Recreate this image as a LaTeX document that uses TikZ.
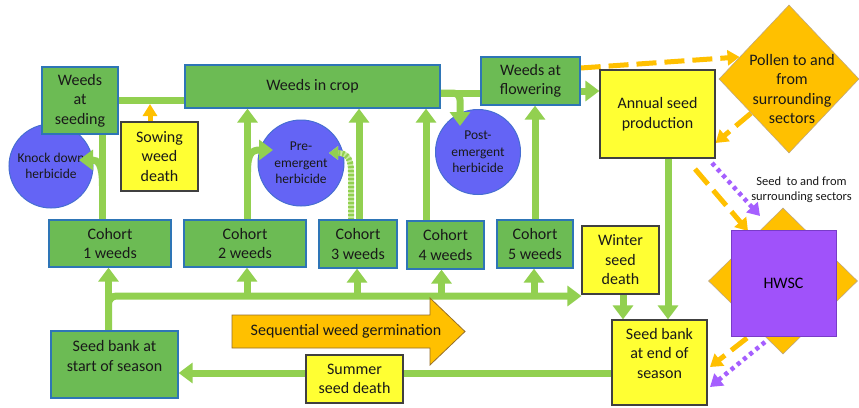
\documentclass[tikz,border=0pt]{standalone}
\usepackage{fontspec}
\setmainfont{Carlito}
\usetikzlibrary{arrows.meta,shapes.geometric}
\pgfdeclarelayer{back}
\pgfdeclarelayer{mid}
\pgfsetlayers{back,mid,main}
\definecolor{gfill}{RGB}{108,187,84}
\definecolor{lgreen}{RGB}{146,208,80}
\definecolor{dgreen}{RGB}{200,235,160}
\definecolor{bblue}{RGB}{46,117,182}
\definecolor{yfill}{RGB}{255,255,51}
\definecolor{ybord}{RGB}{64,64,64}
\definecolor{orng}{RGB}{255,192,0}
\definecolor{obord}{RGB}{150,110,40}
\definecolor{cfill}{RGB}{100,100,245}
\definecolor{cbord}{RGB}{70,110,210}
\definecolor{purp}{RGB}{160,82,250}
\definecolor{pbord}{RGB}{120,60,200}
\definecolor{pdotc}{RGB}{165,95,255}
\definecolor{tcol}{RGB}{25,25,25}
\newcommand\bigf{\fontsize{16}{19.5}\selectfont}
\newcommand\circf{\fontsize{13.5}{16.5}\selectfont}
\newcommand\smallf{\fontsize{12.5}{15.5}\selectfont}
\tikzset{
  txt/.style={text=tcol, align=center, font=\bigf, inner sep=0pt},
  gbox/.style={txt, draw=bblue, line width=1.3pt, fill=gfill},
  ybox/.style={txt, draw=ybord, line width=1.2pt, fill=yfill},
  herb/.style={circle, draw=cbord, fill=cfill, line width=1pt, inner sep=0pt, align=center, text=tcol, font=\circf},
  gline/.style={draw=lgreen, line width=7pt},
  garrow/.style={gline, -{Triangle[width=20pt,length=14pt]}},
  gdot/.style={draw=lgreen, line width=6pt, dash pattern=on 2pt off 2pt, preaction={draw=dgreen, line width=5.5pt, solid}, -{Triangle[width=13pt,length=9pt]}},
  oarrow/.style={draw=orng, line width=5pt, -{Triangle[width=14pt,length=12pt]}},
  odash/.style={draw=orng, line width=5pt, dash pattern=on 20pt off 8pt, -{Triangle[width=15pt,length=12pt]}},
  pdot/.style={draw=pdotc, line width=4.5pt, dash pattern=on 4pt off 4pt, -{Triangle[width=15pt,length=12pt]}}
}
\begin{document}
\begin{tikzpicture}[x=1pt,y=-1pt]
\begin{pgfonlayer}{back}
\fill[white] (0,0) rectangle (859,407);
\node[herb, minimum size=84pt] (knock) at (51,166) {Knock down\\herbicide};
\node[herb, minimum size=86pt] (pre) at (301,163) {Pre-\\emergent\\herbicide};
\node[herb, minimum size=85pt] (post) at (478,152) {Post-\\emergent\\herbicide};
\end{pgfonlayer}
\useasboundingbox (0,0) rectangle (859,407);

% boxes
\node[gbox, minimum width=76pt, minimum height=67pt] (seeding) at (80,100.5) {Weeds\\at\\seeding};
\node[gbox, minimum width=255pt, minimum height=43pt] (crop) at (312.5,86.5) {Weeds in crop};
\node[gbox, minimum width=99pt, minimum height=48pt] (flower) at (530.5,81) {Weeds at\\flowering};
\node[ybox, minimum width=115pt, minimum height=88pt] (annual) at (657.5,114) {Annual seed\\production};
\node[ybox, minimum width=77pt, minimum height=69pt] (sowing) at (159.5,156.5) {Sowing\\weed\\death};
\node[gbox, minimum width=122pt, minimum height=47pt] (c1) at (110,243.5) {Cohort\\1 weeds};
\node[gbox, minimum width=122pt, minimum height=47pt] (c2) at (245,243.5) {Cohort\\2 weeds};
\node[gbox, minimum width=78pt, minimum height=48pt] (c3) at (358,244) {Cohort\\3 weeds};
\node[gbox, minimum width=77pt, minimum height=48pt] (c4) at (445.5,245) {Cohort\\4 weeds};
\node[gbox, minimum width=76pt, minimum height=48pt] (c5) at (535,244) {Cohort\\5 weeds};
\node[ybox, minimum width=77pt, minimum height=68pt] (winter) at (620.5,260) {Winter\\seed\\death};
\node[gbox, minimum width=127pt, minimum height=67pt] (sbstart) at (114.5,364.5) {};
\node[txt] (sbstartT) at (114.5,356) {Seed bank at\\start of season};
\node[ybox, minimum width=95pt, minimum height=85pt] (sbend) at (659.5,362.5) {};
\node[txt] (sbendT) at (659.5,353) {Seed bank\\at end of\\season};
\node[ybox, minimum width=97pt, minimum height=48pt] (summer) at (354.5,379) {Summer\\seed death};

% pollen diamond
\node[diamond, draw=obord!60, fill=orng, line width=0.6pt, minimum width=140pt, minimum height=148pt, inner sep=0pt] (pollen) at (789,79) {};
\node[txt] (pollenT) at (792,89) {Pollen to and\\from\\surrounding\\sectors};

% HWSC
\node[diamond, draw=obord!60, fill=orng, line width=0.6pt, minimum width=149pt, minimum height=146pt, inner sep=0pt] (hwscd) at (783,281) {};
\node[txt, draw=pbord, fill=purp, line width=0.8pt, minimum width=105pt, minimum height=106pt, text={RGB:red,40;green,20;blue,60}] (hwsc) at (783.5,283) {HWSC};
\node[txt, font=\smallf] (seedT) at (801.5,189.5) {Seed\ \ to and from\\surrounding sectors};

% sequential germination arrow
\coordinate (sa1) at (232,315); \coordinate (sa2) at (430,315); \coordinate (sa3) at (430,298);
\coordinate (sa4) at (465,331.5); \coordinate (sa5) at (430,365); \coordinate (sa6) at (430,348);
\coordinate (sa7) at (232,348);
\draw[fill=orng, draw=obord, line width=0.8pt] (sa1) -- (sa2) -- (sa3) -- (sa4) -- (sa5) -- (sa6) -- (sa7) -- cycle;
\node[txt] (seq) at (346,331.5) {Sequential weed germination};

% connectors
\begin{pgfonlayer}{mid}
\draw[gline] (seeding.east) -- (seeding.east -| crop.west);
\coordinate (sowtip) at (150,104);
\draw[oarrow] (sowing.north -| sowtip) -- (sowtip);
\draw[gline] ([xshift=-7.5pt]c1.north) -- ([xshift=-7.5pt]c1.north |- seeding.south);
\coordinate (k0) at (102.5,186); \coordinate (kt) at (79,160);
\draw[garrow] (k0) .. controls (102.5,164) and (98,160) .. (kt);
\draw[garrow] ([xshift=2.5pt]c2.north) -- ([xshift=2.5pt]c2.north |- crop.south);
\coordinate (p0) at (247.5,172); \coordinate (pt) at (273,150);
\draw[garrow] (p0) .. controls (247.5,153) and (252,150) .. (pt);
\coordinate (d0) at (351,220); \coordinate (d1) at (351,172); \coordinate (dt) at (329,153);
\draw[gdot] (d0) -- (d1) .. controls (351,157) and (346,153) .. (dt);
\draw[garrow] ([xshift=1pt]c3.north) -- ([xshift=1pt]c3.north |- crop.south);
\draw[garrow] ([xshift=-19.5pt]c4.north) -- ([xshift=-19.5pt]c4.north |- crop.south);
\draw[garrow] (c5.north) -- (c5.north |- flower.south);
\coordinate (cf) at (440,93); \coordinate (ptip) at (460,126);
\draw[gline] (cf) -- (cf -| flower.west);
\draw[garrow, rounded corners=7pt] (cf) -| (ptip);
\draw[garrow] ([yshift=-10pt]flower.east) -- ([yshift=-10pt]flower.east -| annual.west);
\draw[odash] ([yshift=13pt]flower.east) -- (pollen.156);
\draw[odash] (pollen.222) -- ([yshift=-29pt]annual.east);
\draw[garrow] ([xshift=10.5pt]annual.south) -- ([xshift=10.5pt]annual.south |- sbend.north);
\coordinate (oa) at (695,169); \coordinate (ob) at (748,231);
\draw[odash] (oa) -- (ob);
\coordinate (pa) at (712,163); \coordinate (pb) at (760,216);
\draw[pdot] (pa) -- (pb);
\coordinate (oc) at (747,338); \coordinate (od) at (710,367);
\draw[odash] (oc) -- (od);
\coordinate (pc) at (765,342); \coordinate (pd) at (710,387);
\draw[pdot] (pc) -- (pd);
\draw[garrow] ([xshift=2.5pt]winter.south) -- ([xshift=2.5pt]winter.south |- sbend.north);
% germination
\coordinate (gl) at (0,296);
\draw[garrow] ([xshift=-6pt]sbstart.north) -- ([xshift=-6pt]sbstart.north |- c1.south);
\draw[garrow, rounded corners=8pt] ([xshift=-6pt]sbstart.north) |- (gl -| winter.west);
\draw[garrow] ([xshift=2pt]c2.south |- gl) -- ([xshift=2pt]c2.south);
\draw[garrow] ([xshift=-1pt]c3.south |- gl) -- ([xshift=-1pt]c3.south);
\draw[garrow] ([xshift=-4pt]c4.south |- gl) -- ([xshift=-4pt]c4.south);
\draw[garrow] ([xshift=-1pt]c5.south |- gl) -- ([xshift=-1pt]c5.south);
% return
\draw[garrow] ([yshift=-10.5pt]sbend.west) -- ([yshift=-10.5pt]sbend.west -| sbstart.east);
\end{pgfonlayer}
\end{tikzpicture}
\end{document}
